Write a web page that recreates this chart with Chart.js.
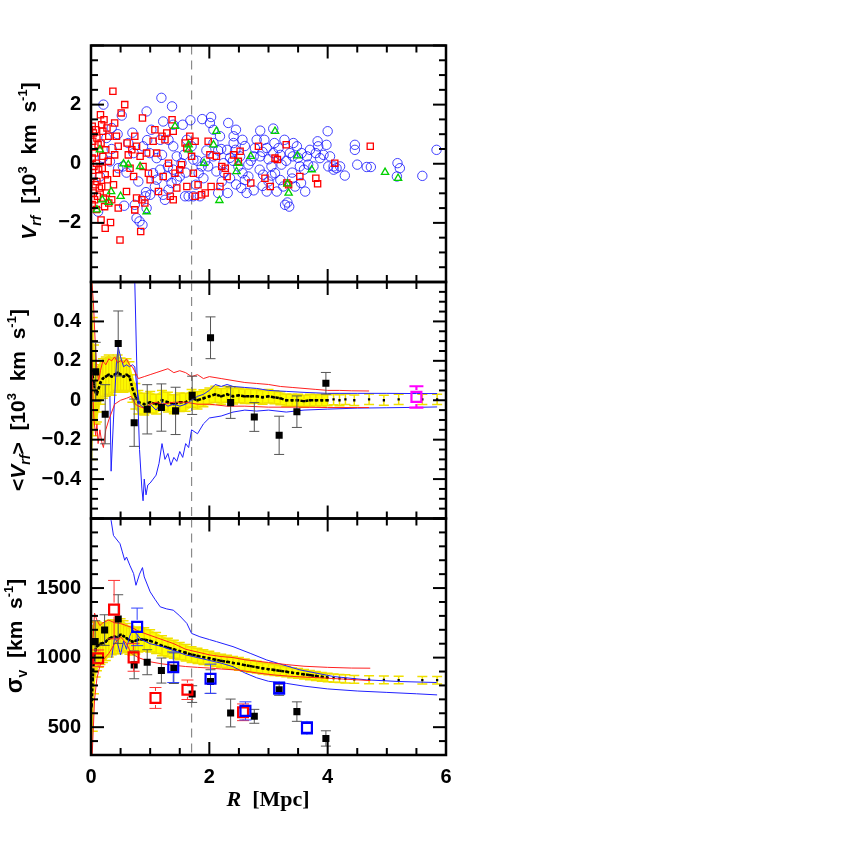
<!DOCTYPE html>
<html>
<head>
<meta charset="utf-8">
<script src="https://cdn.jsdelivr.net/npm/chart.js@4.4.1/dist/chart.umd.min.js"></script>
<style>
  body { margin: 0; background: #fff; }
  #wrap { position: relative; width: 845px; height: 845px; }
  canvas { position: absolute; left: 0; top: 0; }
</style>
</head>
<body>
<div id="wrap">
  <canvas id="cTop" width="845" height="845"></canvas>
  <canvas id="cMid" width="845" height="845"></canvas>
  <canvas id="cBot" width="845" height="845"></canvas>
</div>
<script>
// ---- data: top panel, [R (Mpc), V_rf (10^3 km/s)] ----
const redPts = [[0.02,1.27],[0.08,1.15],[0.04,1.04],[0.1,0.87],[0.03,0.76],[0.12,0.64],[0.06,0.36],[0.02,0.19],[0.09,0.02],[0.05,-0.09],[0.13,-0.2],[0.03,-0.43],[0.1,-0.6],[0.07,-0.71],[0.14,-0.82],[0.04,-0.99],[0.11,-1.1],[0.06,-1.22],[0.02,-1.38],[0.09,-1.55],
  [0.16,1.66],[0.22,1.49],[0.18,1.32],[0.27,1.21],[0.2,1.1],[0.3,0.93],[0.17,0.7],[0.25,0.47],[0.2,0.25],[0.29,0.08],[0.19,-0.15],[0.24,-0.37],[0.28,-0.54],[0.18,-0.77],[0.26,-0.99],[0.21,-1.16],[0.3,-1.33],[0.23,-1.45],[0.17,-1.9],[0.24,-2.18],
  [0.33,-1.99],[0.49,-2.58],[0.4,1.38],[0.43,0.93],[0.46,0.59],[0.4,0.3],[0.43,-0.32],[0.38,-0.71],[0.35,-1.22],[0.46,-1.5],[0.37,2.45],[0.57,2.0],
  [0.51,1.72],[0.61,0.7],[0.63,0.3],[0.66,-0.15],[0.6,-0.94],[0.69,0.47],[0.72,-0.43],
  [0.74,0.93],[0.77,0.59],[0.87,1.55],[0.83,0.25],[0.88,-0.09],[0.86,-1.22],[0.77,-1.16],[0.74,-1.56],[0.84,-2.29],[0.94,0.36],[0.97,-0.32],[1.0,-0.54],[0.91,-1.33],
  [1.05,0.76],[1.08,1.15],[1.11,0.36],[1.14,-0.94],[1.2,0.93],[1.25,0.81],[1.28,1.04],[1.31,0.02],[1.37,1.49],[1.39,1.1],[1.22,-0.43],[1.34,-1.1],[1.39,-1.22],
  [1.42,-0.32],[1.5,-0.2],[1.53,-0.03],[1.59,0.7],[1.62,0.53],[1.67,0.93],[1.7,0.25],[1.76,0.76],[1.73,-0.32],[1.76,-1.1],[1.62,-0.77],[1.45,-0.82],
  [1.81,-0.71],[1.87,-1.05],[1.93,-0.99],[1.98,0.76],[2.01,0.3],[2.03,-0.77],[2.12,0.25],[2.18,-0.77],[2.21,-0.09],[2.27,-0.15],[2.3,-0.43],[2.41,0.3],[2.49,0.08],[2.52,0.42],
  [2.83,0.59],[2.7,-0.65],[2.94,-0.49],[3.03,-0.77],[3.11,0.19],[3.15,0.14],[3.3,0.64],[3.31,-0.65],[3.34,-0.71],[3.53,-0.43],[3.8,-0.49],[3.83,-0.68],[4.12,0.02],[4.72,0.59]]

const bluePts = [[0.21,2.0],[0.52,1.63],[0.94,1.77],[1.19,2.23],[1.37,1.94],[1.22,1.43],[1.39,1.32],[1.55,1.32],[1.68,1.47],[1.88,1.51],[2.03,1.58],[2.01,1.38],[2.32,1.38],[2.45,1.15],[2.56,0.81],[2.86,1.12],[2.93,0.81],[3.08,1.19],[3.27,0.81],[3.42,0.7],[3.83,0.76],[4.0,1.1],[4.46,0.64],[4.46,0.47],[4.5,-0.03],[4.66,-0.11],[4.73,-0.11],[5.18,0.02],[5.22,-0.15],[5.17,-0.43],[5.6,-0.41],[5.84,0.47],[4.29,-0.4],[4.1,-0.2],[3.87,0.19],[3.76,-0.09],
  [0.15,-0.43],[0.12,-1.62],[0.35,1.21],[0.26,0.87],[0.32,0.08],[0.54,-0.09],[0.56,-1.42],[0.74,-1.39],[0.77,-1.84],[0.82,-1.95],[0.87,-2.07],[0.93,-0.96],[0.94,-1.5],[0.92,-1.1],[1.11,0.19],[1.05,-0.32],[1.08,-0.77],[1.17,-0.2],[1.22,-1.05],[1.25,-1.22],[1.31,-0.88],[1.28,-0.43],[1.36,-0.65],[1.39,-0.2],[1.5,-0.43],[1.53,0.02],[1.57,0.3],[1.59,-1.1],[1.65,-1.1],[1.73,-1.1],[1.84,-1.1],[1.73,0.14],[1.62,0.81],[1.7,0.59],[1.87,-0.09],[1.93,0.08],[1.98,-0.09],[2.07,0.25],[2.07,0.7],[2.12,-0.26],[2.15,-0.99],[2.21,-0.6],[2.31,-0.99],[2.35,-0.49],[2.41,0.7],[2.44,0.47],[2.52,0.25],[2.54,-0.82],[2.56,-0.32],[2.63,-0.99],[2.66,-0.03],[2.66,-0.43],[2.75,0.25],[2.77,0.53],[2.8,0.81],[2.86,0.25],[2.91,-0.37],[2.97,0.53],[2.97,-0.94],[3.0,-0.6],[3.05,-0.09],[3.08,0.36],[3.11,-0.32],[3.14,-0.94],[3.17,0.53],[3.22,-0.03],[3.25,-0.77],[3.28,-1.39],[3.32,-1.31],[3.35,-1.45],[3.36,0.36],[3.41,0.25],[3.45,-0.77],[3.48,0.59],[3.53,-0.09],[3.56,0.36],[3.62,-0.94],[3.65,0.25],[3.67,-0.03],[3.7,0.47],[3.8,0.36],[3.84,0.59],[3.93,0.3],[3.98,0.64],[4.01,-0.09],[4.04,0.25],[4.1,-0.09],[4.15,-0.15],[4.21,-0.09],[2.07,1.15],[2.18,0.93],[2.41,0.93],[2.49,-0.09],[2.3,0.47],[2.24,0.02],[1.9,-0.49],[1.82,-0.32],[1.77,-0.71],[1.39,0.59],[1.31,0.81],[1.45,0.25],[1.17,0.81],[1.11,-0.54],[0.99,0.36],[1.02,1.15],[0.88,0.59],[0.72,0.36],[0.63,0.7],[0.46,-0.15],
  [2.2,0.5],[2.35,0.2],[2.6,0.6],[2.7,0.1],[2.85,-0.2],[2.9,0.4],[3.0,0.15],[3.1,0.7],[3.2,0.3],[3.3,0.1],[3.4,-0.3],[3.5,0.2],[3.6,-0.2],[2.45,-0.7],[2.6,-0.55],[2.75,-0.9],[2.9,-0.75],[3.05,-0.4],[3.2,-0.55],[3.4,-0.5],[3.55,-0.65],[2.15,0.45],[2.25,-0.3],[2.4,0.1],[1.95,0.45],[1.8,0.1],[1.6,-0.3],[1.45,-0.55],[1.3,-0.1],[1.0,-1.05],[0.8,-0.6],[0.6,-0.3],[0.35,0.5],[0.45,1.0],[0.7,1.05],[0.95,0.8],[1.2,0.3],[0.2,0.2]]

const greenPts = [[0.1,-1.56],[0.34,-0.94],[0.5,-1.1],[0.63,-0.03],[0.83,-0.09],[0.94,-1.62],[1.42,1.27],[1.65,0.47],[2.07,0.64],[2.12,1.1],[2.17,-1.24],[1.91,0.02],[2.46,-0.26],[2.49,0.02],[2.7,0.25],[3.11,1.1],[3.34,-0.99],[3.32,-0.68],[3.49,0.27],[3.73,-0.2],[4.97,-0.29],[5.19,-0.49],[0.19,-1.22],[0.15,0.47],[1.65,0.64],[0.55,0.0],[0.3,-1.3]]

const dashR = 1.7

// tick labels
const xTicks = [0, 2, 4, 6]
const topTicks = [-2, 0, 2]
const midTicks = [-0.4, -0.2, 0, 0.2, 0.4]
const sigTicks = [500, 1000, 1500]

// ---- running profiles (shared radii) ----
const bandR = [0.01,0.03,0.05,0.08,0.1,0.13,0.16,0.2,0.25,0.3,0.35,0.4,0.45,0.5,0.55,0.6,0.65,0.7,0.75,0.8,0.9,1.0,1.1,1.2,1.3,1.4,1.5,1.6,1.7,1.8,1.9,2.0,2.1,2.2,2.3,2.4,2.5,2.6,2.7,2.8,2.9,3.0,3.1,3.2,3.3,3.4,3.5,3.6,3.7,3.8,3.9,4.0,4.1,4.2,4.3,4.45,4.7,4.95,5.2,5.6,5.85]
const midMean = [0.15,0.12,0.08,0.04,0.03,0.06,0.09,0.11,0.12,0.13,0.12,0.13,0.14,0.13,0.12,0.13,0.12,0.06,0.02,-0.01,-0.02,-0.01,-0.02,0.0,-0.01,-0.02,-0.01,-0.01,0.01,0.0,0.01,0.02,0.03,0.02,0.03,0.02,0.025,0.02,0.02,0.02,0.015,0.02,0.015,0.01,0.0,0.0,0.0,-0.005,0.0,0.0,0.0,0.0,0.005,0.0,0.005,0.0,0.005,0.0,0.005,0.005,0.005]
const midHalf = [0.45,0.3,0.2,0.16,0.14,0.12,0.11,0.1,0.1,0.1,0.095,0.09,0.09,0.085,0.08,0.08,0.075,0.07,0.065,0.06,0.055,0.055,0.05,0.05,0.05,0.048,0.047,0.046,0.045,0.044,0.043,0.042,0.041,0.04,0.04,0.039,0.038,0.037,0.036,0.035,0.035,0.034,0.033,0.033,0.032,0.031,0.031,0.03,0.03,0.029,0.029,0.028,0.028,0.028,0.027,0.027,0.027,0.026,0.026,0.026,0.026]
const sigMean = [650,850,1000,1060,1080,1090,1100,1105,1115,1135,1145,1150,1145,1165,1155,1140,1125,1115,1120,1130,1130,1120,1105,1085,1072,1060,1047,1035,1022,1012,1003,995,985,977,970,962,955,946,938,931,923,917,911,905,899,892,886,880,874,868,862,857,853,850,847,844,841,840,839,838,838]
const sigHalf = [450,380,260,200,175,160,150,140,135,130,125,120,118,115,110,105,100,97,94,90,85,80,76,72,68,65,62,60,57,55,53,51,49,48,47,46,45,44,43,42,41,40,39,38,37,36,35,34,33,32,31,30,30,29,29,28,28,27,27,27,27]

// ---- middle panel lines ----
const midRedUpR = [0.01,0.04,0.07,0.1,0.13,0.16,0.2,0.25,0.3,0.35,0.4,0.45,0.5,0.55,0.6,0.65,0.7,0.75,0.8,0.9,1.0,1.1,1.2,1.3,1.4,1.5,1.6,1.7,1.8,1.9,2.0,2.2,2.4,2.6,2.8,3.0,3.2,3.4,3.6,3.8,4.0,4.2,4.4,4.7]
const midRedUpV = [0.62,0.5,0.3,0.15,0.1,0.15,0.2,0.18,0.21,0.2,0.22,0.19,0.2,0.19,0.21,0.18,0.17,0.14,0.11,0.12,0.13,0.14,0.15,0.16,0.14,0.15,0.14,0.12,0.13,0.11,0.12,0.11,0.1,0.09,0.085,0.08,0.07,0.065,0.06,0.055,0.05,0.05,0.048,0.047]
const midRedLoR = [0.01,0.03,0.05,0.08,0.1,0.12,0.15,0.18,0.21,0.25,0.3,0.35,0.4,0.5,0.6,0.68,0.75,0.8,0.9,1.0,1.1,1.2,1.4,1.6,1.8,2.0,2.3,2.6,3.0,3.5,4.0,4.5,4.7]
const midRedLoV = [0.3,0.05,-0.1,-0.18,-0.12,-0.22,-0.15,-0.21,-0.24,-0.15,-0.1,-0.06,-0.02,0.0,0.01,0.02,-0.02,-0.03,-0.04,-0.02,-0.01,-0.02,-0.01,-0.01,-0.02,-0.02,-0.03,-0.03,-0.035,-0.035,-0.037,-0.037,-0.037]
const midBlueAR = [0.32,0.34,0.38,0.43,0.46,0.5,0.55,0.6,0.65,0.7,0.74,0.78,0.82,0.9,1.0,1.1,1.2,1.3,1.4,1.5,1.6,1.7,1.8,1.9,2.0,2.1,2.2,2.3,2.4,2.6,2.8,3.0,3.3,3.6,4.0,4.5,5.0,5.5,5.85]
const midBlueAV = [0.02,-0.36,-0.1,0.19,0.27,0.22,0.17,0.18,0.17,0.18,0.17,0.05,-0.02,-0.04,-0.02,-0.05,-0.01,-0.03,-0.02,-0.03,-0.02,0.0,0.02,0.03,0.05,0.08,0.07,0.08,0.07,0.065,0.06,0.05,0.045,0.04,0.035,0.035,0.035,0.034,0.034]
const midBlueBR = [0.7,0.74,0.78,0.82,0.86,0.88,0.9,0.93,0.96,1.0,1.05,1.1,1.15,1.2,1.25,1.3,1.35,1.4,1.45,1.5,1.55,1.6,1.65,1.7,1.8,1.9,2.0,2.2,2.4,2.6,2.8,3.0,3.3,3.6,4.0,4.5,5.0,5.5,5.85]
const midBlueBV = [0.9,0.6,0.1,-0.25,-0.45,-0.51,-0.4,-0.48,-0.43,-0.42,-0.4,-0.38,-0.32,-0.22,-0.3,-0.27,-0.33,-0.29,-0.31,-0.26,-0.29,-0.22,-0.24,-0.15,-0.17,-0.12,-0.09,-0.08,-0.06,-0.05,-0.055,-0.05,-0.06,-0.05,-0.045,-0.04,-0.038,-0.036,-0.034]

// binned means (middle)
const midSqR = [0.08,0.24,0.46,0.73,0.95,1.19,1.43,1.71,2.02,2.36,2.76,3.18,3.48,3.97]
const midSqV = [0.144,-0.071,0.288,-0.114,-0.046,-0.037,-0.054,0.025,0.317,-0.012,-0.085,-0.178,-0.058,0.086]
const midSqE = [0.15,0.15,0.165,0.12,0.125,0.12,0.12,0.097,0.106,0.08,0.073,0.097,0.08,0.055]
const magR = [5.5]
const magV = [0.017]
const magE = [0.054]

// ---- bottom panel lines ----
const sigRedUpR = [0.03,0.06,0.1,0.15,0.2,0.3,0.4,0.5,0.6,0.7,0.8,0.9,1.0,1.2,1.4,1.6,1.8,2.0,2.2,2.4,2.6,2.8,3.0,3.3,3.6,4.0,4.4,4.72]
const sigRedUpV = [1100,1320,1270,1230,1250,1270,1250,1245,1230,1215,1190,1175,1160,1130,1100,1060,1040,1020,1008,1000,985,975,965,950,938,930,925,924]
const sigRedLoR = [0.02,0.04,0.06,0.1,0.15,0.2,0.3,0.4,0.5,0.6,0.68,0.8,1.0,1.2,1.4,1.6,1.8,2.0,2.2,2.5,2.8,3.1,3.4,3.7,4.0,4.3,4.72]
const sigRedLoV = [300,500,700,850,940,980,1030,1100,1150,1100,1030,1000,970,955,945,936,930,925,918,910,890,875,865,858,852,845,835]
const sigBlueUpR = [0.32,0.34,0.38,0.49,0.53,0.57,0.6,0.66,0.72,0.76,0.82,0.87,0.9,1.0,1.08,1.17,1.28,1.39,1.5,1.62,1.7,1.84,2.0,2.12,2.4,2.69,2.97,3.53,4.1,4.66,5.22,5.84]
const sigBlueUpV = [2100,1986,1878,1819,1760,1700,1723,1660,1604,1520,1600,1647,1580,1473,1420,1365,1350,1341,1300,1246,1174,1150,1130,1115,1079,1031,983,912,864,840,828,821]
const sigBlueLoR = [0.35,0.4,0.45,0.5,0.55,0.6,0.65,0.7,0.75,0.85,1.0,1.2,1.4,1.6,1.8,2.0,2.2,2.4,2.6,2.8,3.0,3.3,3.6,4.0,4.5,5.0,5.5,5.85]
const sigBlueLoV = [1000,1150,1100,1020,1120,1060,1150,1200,1180,1130,1100,1080,1050,1020,1000,980,960,935,890,855,830,815,795,775,760,750,740,732]

// binned dispersions (bottom)
const sigSqR = [0.07,0.23,0.46,0.73,0.95,1.19,1.4,1.71,2.02,2.36,2.76,3.18,3.48,3.97]
const sigSqV = [1115,1198,1277,948,967,907,924,738,828,602,578,769,612,419]
const sigSqE = [150,110,175,100,90,90,110,60,85,100,50,40,70,55]
const redSqR = [0.12,0.39,0.72,1.09,1.63,2.57]
const redSqV = [995,1345,1002,710,769,607]
const redSqE = [60,210,100,75,70,60]
const bluSqR = [0.78,1.39,2.02,2.61,3.18,3.65]
const bluSqV = [1221,931,848,617,781,495]
const bluSqE = [135,110,105,65,45,45]

// ---- layout ----
const plotLeft = 91
const plotRight = 446
const FONT = '"Liberation Sans", Arial, sans-serif'
const SERIF = '"Liberation Serif", "Times New Roman", serif'
const fB = s => `bold ${s}px ${FONT}`
const fBI = s => `italic bold ${s}px ${FONT}`

const pts = (rs, vs) => rs.map((r, i) => ({x: r, y: vs[i]}))
const pairs = arr => arr.map(p => ({x: p[0], y: p[1]}))

function lineDs(rs, vs, color, order) {
    return {data: pts(rs, vs), showLine: true, borderColor: color, borderWidth: 1, pointRadius: 0, fill: false, order: order}
}

// yellow band: fill between lo/hi for dense part + error bars everywhere
function bandSets(mean, half) {
    const idx = bandR.map((r, i) => i).filter(i => bandR[i] <= 4.0)
    const lo = {data: idx.map(i => ({x: bandR[i], y: mean[i] - half[i]})), showLine: true, borderWidth: 0,
        borderColor: 'rgba(0,0,0,0)', pointRadius: 0, fill: false, order: 11}
    const hi = {data: idx.map(i => ({x: bandR[i], y: mean[i] + half[i]})), showLine: true, borderWidth: 0,
        borderColor: 'rgba(0,0,0,0)', pointRadius: 0, fill: '-1', backgroundColor: '#ffff00', order: 10}
    const bars = {data: pts(bandR, mean), errs: half, errColor: '#f0e000', errWidth: 1.5, capW: 5,
        pointRadius: 0, showLine: false, order: 9}
    const dots = {data: pts(bandR, mean), showLine: true, borderColor: '#000', borderWidth: 2.5, borderDash: [3, 2],
        segment: {borderColor: c => c.p0.parsed.x >= 4.0 ? 'rgba(0,0,0,0)' : undefined},
        pointStyle: 'rect', pointRadius: 1.6, pointBackgroundColor: '#000', pointBorderWidth: 0, order: 5}
    return [lo, hi, bars, dots]
}

function rich(ctx, cx, cy, segs, rot) {
    ctx.save()
    ctx.translate(cx, cy)
    if (rot) ctx.rotate(-Math.PI / 2)
    let w = 0
    const widths = segs.map(s => { ctx.font = s.f; const m = ctx.measureText(s.t).width; w += m; return m })
    let x = -w / 2
    ctx.fillStyle = '#000'
    ctx.textBaseline = 'alphabetic'
    segs.forEach((s, i) => { ctx.font = s.f; ctx.fillText(s.t, x, s.dy || 0); x += widths[i] })
    ctx.restore()
}

function deco(o) {
    return {
        id: 'deco',
        beforeDatasetsDraw(chart) {
            const {ctx, chartArea: a, scales: {x}} = chart
            const px = x.getPixelForValue(dashR)
            ctx.save()
            ctx.strokeStyle = '#8a8a8a'
            ctx.lineWidth = 1.2
            ctx.setLineDash([9, 6])
            ctx.beginPath(); ctx.moveTo(px, a.top); ctx.lineTo(px, a.bottom); ctx.stroke()
            ctx.restore()
        },
        beforeDatasetDraw(chart, args) {
            const ds = chart.data.datasets[args.index]
            if (!ds.errs) return
            const {ctx, chartArea: a, scales: {y}} = chart
            const meta = chart.getDatasetMeta(args.index)
            ctx.save()
            ctx.beginPath(); ctx.rect(a.left, a.top, a.right - a.left, a.bottom - a.top); ctx.clip()
            ctx.strokeStyle = ds.errColor
            ctx.lineWidth = ds.errWidth
            const gap = ds.errGap || 0
            meta.data.forEach((pt, i) => {
                const v = ds.data[i].y, e = ds.errs[i]
                const y1 = y.getPixelForValue(v + e), y2 = y.getPixelForValue(v - e)
                ctx.beginPath()
                ctx.moveTo(pt.x, y1); ctx.lineTo(pt.x, pt.y - gap)
                ctx.moveTo(pt.x, pt.y + gap); ctx.lineTo(pt.x, y2)
                ctx.moveTo(pt.x - ds.capW, y1); ctx.lineTo(pt.x + ds.capW, y1)
                ctx.moveTo(pt.x - ds.capW, y2); ctx.lineTo(pt.x + ds.capW, y2)
                ctx.stroke()
            })
            ctx.restore()
        },
        afterDraw(chart) {
            const {ctx, chartArea: a, scales: {x, y}} = chart
            ctx.save()
            ctx.strokeStyle = '#000'
            ctx.lineWidth = 2
            const seg = (x1, y1, x2, y2) => { ctx.beginPath(); ctx.moveTo(x1, y1); ctx.lineTo(x2, y2); ctx.stroke() }
            for (let k = 0; k <= 12; k++) {
                const px = x.getPixelForValue(k * 0.5)
                const len = k % 4 === 0 ? 13 : 7
                seg(px, a.top, px, a.top + len)
                seg(px, a.bottom, px, a.bottom - len)
            }
            const n = Math.round((o.yMax - o.yMin) / o.yMinor)
            for (let k = 0; k <= n; k++) {
                const v = o.yMin + k * o.yMinor
                const py = y.getPixelForValue(v)
                const q = v / o.yMajor
                const len = Math.abs(q - Math.round(q)) < 1e-6 ? 13 : 7
                seg(a.left, py, a.left + len, py)
                seg(a.right, py, a.right - len, py)
            }
            ctx.lineWidth = 2.5
            ctx.strokeRect(a.left, a.top, a.right - a.left, a.bottom - a.top)
            ctx.restore()
            o.titles.forEach(t => rich(ctx, t.x, t.y, t.segs, t.rot))
        }
    }
}

const minus = s => s.replace('-', '\u2212')

function makeChart(id, o) {
    const xAxisH = o.showX ? 40 : 0
    const tickFont = {family: FONT, size: 20, weight: 'bold'}
    return new Chart(document.getElementById(id), {
        type: 'scatter',
        data: {datasets: o.datasets},
        options: {
            responsive: false,
            animation: false,
            events: [],
            layout: {padding: {left: 0, right: 845 - plotRight, top: o.top, bottom: 845 - o.bottom - xAxisH}},
            plugins: {legend: {display: false}, tooltip: {enabled: false}},
            scales: {
                x: {
                    type: 'linear', min: 0, max: 6, display: o.showX,
                    grid: {display: false, drawTicks: false}, border: {display: false},
                    afterBuildTicks: s => { s.ticks = xTicks.map(v => ({value: v})) },
                    ticks: {padding: 10, color: '#000', autoSkip: false, maxRotation: 0, font: tickFont,
                        callback: v => String(v)},
                    afterFit: s => { s.height = xAxisH }
                },
                y: {
                    type: 'linear', min: o.yMin, max: o.yMax,
                    grid: {display: false, drawTicks: false}, border: {display: false},
                    afterBuildTicks: s => { s.ticks = o.labels.map(v => ({value: v})) },
                    ticks: {padding: 10, color: '#000', autoSkip: false, font: tickFont,
                        callback: v => minus(String(v))},
                    afterFit: s => { s.width = plotLeft }
                }
            }
        },
        plugins: [deco(o)]
    })
}

const supSegs = [{t: '  km  s', f: fB(21)}, {t: '-1', f: fB(13), dy: -9}, {t: ']', f: fB(21)}]

// top: individual galaxies
makeChart('cTop', {
    top: 45.5, bottom: 282, yMin: -4, yMax: 4, labels: topTicks, yMinor: 0.5, yMajor: 2, showX: false,
    datasets: [
        {data: pairs(greenPts), pointStyle: 'triangle', pointRadius: 4.2, borderColor: '#00d000', borderWidth: 1.3,
            backgroundColor: 'rgba(0,0,0,0)', order: 1},
        {data: pairs(redPts), pointStyle: 'rect', pointRadius: 4.4, borderColor: '#ff0000', borderWidth: 1.3,
            backgroundColor: 'rgba(0,0,0,0)', order: 2},
        {data: pairs(bluePts), pointStyle: 'circle', pointRadius: 4.7, borderColor: 'rgba(20,20,255,0.8)', borderWidth: 1,
            backgroundColor: 'rgba(0,0,0,0)', order: 3}
    ],
    titles: [{x: 36, y: 161, rot: true, segs: [{t: 'V', f: fBI(21)}, {t: 'rf', f: fBI(14), dy: 5},
        {t: '  [10', f: fB(21)}, {t: '3', f: fB(13), dy: -9}, ...supSegs]}]
})

// middle: mean velocity profile
makeChart('cMid', {
    top: 282, bottom: 518.5, yMin: -0.6, yMax: 0.6, labels: midTicks, yMinor: 0.05, yMajor: 0.2, showX: false,
    datasets: [
        ...bandSets(midMean, midHalf),
        lineDs(midRedUpR, midRedUpV, '#ff2020', 4),
        lineDs(midRedLoR, midRedLoV, '#ff2020', 4),
        lineDs(midBlueAR, midBlueAV, '#2020ff', 4),
        lineDs(midBlueBR, midBlueBV, '#2020ff', 4),
        {data: pts(midSqR, midSqV), errs: midSqE, errColor: '#555', errWidth: 1, capW: 5,
            pointStyle: 'rect', pointRadius: 5, backgroundColor: '#000', borderColor: '#000', borderWidth: 0, order: 1},
        {data: pts(magR, magV), errs: magE, errColor: '#ff00ff', errWidth: 2.2, capW: 7, errGap: 7,
            pointStyle: 'rect', pointRadius: 7, backgroundColor: 'rgba(0,0,0,0)', borderColor: '#ff00ff', borderWidth: 2.2, order: 0}
    ],
    titles: [{x: 25, y: 400, rot: true, segs: [{t: '<', f: fB(21)}, {t: 'V', f: fBI(21)}, {t: 'rf', f: fBI(14), dy: 5},
        {t: '>', f: fB(21)}, {t: '  [10', f: fB(21)}, {t: '3', f: fB(13), dy: -9}, ...supSegs]}]
})

// bottom: velocity dispersion profile
makeChart('cBot', {
    top: 518.5, bottom: 755, yMin: 300, yMax: 2000, labels: sigTicks, yMinor: 100, yMajor: 500, showX: true,
    datasets: [
        ...bandSets(sigMean, sigHalf),
        lineDs(sigRedUpR, sigRedUpV, '#ff2020', 4),
        lineDs(sigRedLoR, sigRedLoV, '#ff2020', 4),
        lineDs(sigBlueUpR, sigBlueUpV, '#2020ff', 4),
        lineDs(sigBlueLoR, sigBlueLoV, '#2020ff', 4),
        {data: pts(sigSqR, sigSqV), errs: sigSqE, errColor: '#555', errWidth: 1, capW: 5,
            pointStyle: 'rect', pointRadius: 5, backgroundColor: '#000', borderColor: '#000', borderWidth: 0, order: 2},
        {data: pts(redSqR, redSqV), errs: redSqE, errColor: '#ff3030', errWidth: 1, capW: 6, errGap: 7,
            pointStyle: 'rect', pointRadius: 7, backgroundColor: 'rgba(0,0,0,0)', borderColor: '#ff0000', borderWidth: 2.2, order: 1},
        {data: pts(bluSqR, bluSqV), errs: bluSqE, errColor: '#3040ff', errWidth: 1, capW: 6, errGap: 7,
            pointStyle: 'rect', pointRadius: 7, backgroundColor: 'rgba(0,0,0,0)', borderColor: '#0000ff', borderWidth: 2.2, order: 0}
    ],
    titles: [
        {x: 22, y: 636, rot: true, segs: [{t: '\u03c3', f: fB(23)}, {t: 'v', f: fB(14), dy: 5}, {t: '  [km  s', f: fB(21)},
            {t: '-1', f: fB(13), dy: -9}, {t: ']', f: fB(21)}]},
        {x: 268, y: 806, rot: false, segs: [{t: 'R', f: `italic bold 22px ${SERIF}`}, {t: '  [Mpc]', f: `bold 22px ${SERIF}`}]}
    ]
})
</script>
</body>
</html>
